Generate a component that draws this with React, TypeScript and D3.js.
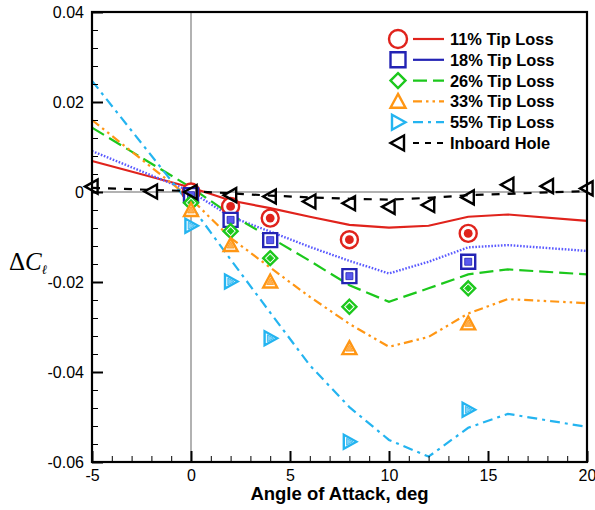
import React, { useEffect, useRef } from 'react'
import * as d3 from 'd3'

// CFD curves (lines)
const lineAoA = [-5, 0, 2, 4, 6, 8, 10, 12, 14, 16, 20]
const tip11Line = [0.0069, 0.001, -0.0019, -0.0036, -0.0055, -0.0073, -0.0079, -0.0075, -0.0055, -0.005, -0.0064]
const tip18Line = [0.0091, 0.0001, -0.0055, -0.0088, -0.0122, -0.0153, -0.0181, -0.0155, -0.0123, -0.0118, -0.0131]
const tip26Line = [0.0143, 0.001, -0.005, -0.0101, -0.0153, -0.0207, -0.0244, -0.0214, -0.0183, -0.0172, -0.0183]
const tip33Line = [0.016, -0.0015, -0.0102, -0.0168, -0.0233, -0.0293, -0.0344, -0.0322, -0.027, -0.0238, -0.0247]
const tip55Line = [0.0247, -0.003, -0.015, -0.0268, -0.0385, -0.0478, -0.0551, -0.0588, -0.0524, -0.0493, -0.0522]
const holeLine = [0.0009, 0.0002, -0.0003, -0.0008, -0.0012, -0.0015, -0.0017, -0.0013, -0.0007, -0.0004, 0.0002]

// measured points (symbols)
const expAoA = [0, 2, 4, 8, 14]
const tip11Exp = [0.0, -0.0032, -0.0058, -0.0106, -0.0092]
const tip18Exp = [-0.0007, -0.0062, -0.0107, -0.0187, -0.0155]
const tip26Exp = [-0.0024, -0.0087, -0.0147, -0.0255, -0.0214]
const tip33Exp = [-0.004, -0.0118, -0.0199, -0.0347, -0.0292]
const tip55Exp = [-0.0075, -0.0199, -0.0325, -0.0555, -0.0484]
const holeAoA = [-5, -2, 0, 2, 4, 6, 8, 10, 12, 14, 16, 18, 20]
const holeExp = [0.0012, 0.0001, 0, -0.0007, -0.001, -0.0021, -0.0025, -0.0033, -0.0029, -0.0012, 0.0016, 0.0013, 0.0008]

const seriesNames = ['11% Tip Loss', '18% Tip Loss', '26% Tip Loss', '33% Tip Loss', '55% Tip Loss', 'Inboard Hole']
const yTicks = [-0.06, -0.04, -0.02, 0, 0.02, 0.04]
const yTickLabels = ['-0.06', '-0.04', '-0.02', '0', '0.02', '0.04']
const xTicks = [-5, 0, 5, 10, 15, 20]
const xTickLabels = ['-5', '0', '5', '10', '15', '20']

const W = 595
const H = 510
const margin = { top: 12, right: 8, bottom: 48, left: 92 }

// marker outline path centred on 0,0
function shape (type: string, s: number) {
  const h = s / 2
  switch (type) {
    case 'circle':
      return d3.arc()({ innerRadius: 0, outerRadius: h, startAngle: 0, endAngle: 2 * Math.PI }) as string
    case 'square':
      return `M${-h},${-h}H${h}V${h}H${-h}Z`
    case 'diamond':
      return `M0,${-h}L${h},0L0,${h}L${-h},0Z`
    case 'up':
      return `M0,${-h}L${h},${h * 0.85}L${-h},${h * 0.85}Z`
    case 'right':
      return `M${-h * 0.8},${-h}L${h},0L${-h * 0.8},${h}Z`
    default:
      return `M${h * 0.8},${-h}L${-h},0L${h * 0.8},${h}Z`
  }
}

function App () {
  const ref = useRef<SVGSVGElement>(null)

  useEffect(() => {
    const width = W - margin.left - margin.right
    const height = H - margin.top - margin.bottom

    const x = d3.scaleLinear().domain([-5, 20]).range([0, width])
    const y = d3.scaleLinear().domain([-0.06, 0.04]).range([height, 0])

    const root = d3.select(ref.current)
    root.selectAll('*').remove()
    const svg = root.append('g')
      .attr('transform', 'translate(' + margin.left + ',' + margin.top + ')')

    const series = [
      { name: seriesNames[0], line: tip11Line, ax: expAoA, exp: tip11Exp, color: '#e0231c', lineColor: '#e0231c', legColor: '#e0231c', dash: null, marker: 'circle', inner: 'dot' },
      { name: seriesNames[1], line: tip18Line, ax: expAoA, exp: tip18Exp, color: '#2323b4', lineColor: '#5a5aff', legColor: '#2323b4', dash: '1.6,1.6', marker: 'square', inner: '#5a5af0' },
      { name: seriesNames[2], line: tip26Line, ax: expAoA, exp: tip26Exp, color: '#1cc81c', lineColor: '#1cc81c', legColor: '#1cc81c', dash: '14,6', marker: 'diamond', inner: '#1cc81c' },
      { name: seriesNames[3], line: tip33Line, ax: expAoA, exp: tip33Exp, color: '#ff9614', lineColor: '#ff9614', legColor: '#ff9614', dash: '9,4,2.5,4,2.5,4', marker: 'up', inner: '#ffb050' },
      { name: seriesNames[4], line: tip55Line, ax: expAoA, exp: tip55Exp, color: '#24b4f0', lineColor: '#24b4f0', legColor: '#24b4f0', dash: '10,5,3,5', marker: 'right', inner: '#7fd2f7' },
      { name: seriesNames[5], line: holeLine, ax: holeAoA, exp: holeExp, color: '#000', lineColor: '#000', legColor: '#000', dash: '8,8', marker: 'left', inner: null }
    ]

    // zero lines
    svg.append('line')
      .attr('x1', x(0)).attr('x2', x(0)).attr('y1', 0).attr('y2', height)
      .attr('stroke', '#999').attr('stroke-width', 1.5)
    svg.append('line')
      .attr('x1', 0).attr('x2', width).attr('y1', y(0)).attr('y2', y(0))
      .attr('stroke', '#999').attr('stroke-width', 1.5)

    // curves
    const line = d3.line<number>()
      .x((d, i) => x(lineAoA[i]))
      .y((d) => y(d))

    series.forEach((s) => {
      svg.append('path')
        .attr('d', line(s.line))
        .attr('fill', 'none')
        .attr('stroke', s.lineColor)
        .attr('stroke-width', s.dash === '1.6,1.6' ? 2.4 : 2.2)
        .attr('stroke-dasharray', s.dash)
    })

    // symbols
    series.forEach((s) => {
      const g = svg.append('g')
      s.exp.forEach((v, i) => {
        const mg = g.append('g').attr('transform', 'translate(' + x(s.ax[i]) + ',' + y(v) + ')')
        const size = s.marker === 'circle' ? 17 : 14
        mg.append('path')
          .attr('d', shape(s.marker, size))
          .attr('fill', s.inner ? '#fff' : 'none')
          .attr('stroke', s.color)
          .attr('stroke-width', 2.4)
        if (s.inner === 'dot') {
          mg.append('circle').attr('r', 4.4).attr('fill', s.color)
        } else if (s.inner) {
          mg.append('path')
            .attr('d', shape(s.marker, size * 0.5))
            .attr('fill', s.inner)
            .attr('stroke', s.color)
            .attr('stroke-width', 0.8)
        }
      })
    })

    // minor ticks
    svg.append('g')
      .call(d3.axisLeft(y).tickValues(d3.range(-0.06, 0.0401, 0.004)).tickSize(-6).tickFormat(() => ''))
      .call((g) => g.select('.domain').remove())
      .selectAll('line').attr('stroke-width', 1)
    svg.append('g')
      .attr('transform', 'translate(0,' + height + ')')
      .call(d3.axisBottom(x).tickValues(d3.range(-5, 20.01, 1)).tickSize(-6).tickFormat(() => ''))
      .call((g) => g.select('.domain').remove())
      .selectAll('line').attr('stroke-width', 1)

    // major ticks and labels (plain hyphen minus, as in the original)
    const yAxis = svg.append('g')
      .call(d3.axisLeft(y).tickValues(yTicks).tickSize(-11).tickPadding(8)
        .tickFormat((d, i) => yTickLabels[i]))
    yAxis.select('.domain').remove()
    yAxis.selectAll('line').attr('stroke-width', 2)
    yAxis.selectAll('text').style('font-size', '16px').style('font-family', 'Liberation Sans, Arial, sans-serif').attr('fill', '#000')

    const xAxis = svg.append('g')
      .attr('transform', 'translate(0,' + height + ')')
      .call(d3.axisBottom(x).tickValues(xTicks).tickSize(-11).tickPadding(8)
        .tickFormat((d, i) => xTickLabels[i]))
    xAxis.select('.domain').remove()
    xAxis.selectAll('line').attr('stroke-width', 2)
    xAxis.selectAll('text').style('font-size', '16px').style('font-family', 'Liberation Sans, Arial, sans-serif').attr('fill', '#000')

    // frame
    svg.append('rect')
      .attr('width', width).attr('height', height)
      .attr('fill', 'none').attr('stroke', '#000').attr('stroke-width', 2.2)

    // axis titles
    svg.append('text')
      .attr('x', width / 2).attr('y', height + 38)
      .attr('text-anchor', 'middle')
      .style('font-family', 'Liberation Sans, Arial, sans-serif')
      .style('font-size', '18.5px').style('font-weight', 'bold')
      .text('Angle of Attack, deg')

    const yl = root.append('text')
      .attr('x', 9).attr('y', 270)
      .style('font-family', 'Liberation Serif, Times New Roman, serif')
      .style('font-size', '25px')
    yl.append('tspan').text('Δ')
    yl.append('tspan').style('font-style', 'italic').text('C')
    yl.append('tspan').attr('dy', 4).style('font-style', 'italic').style('font-size', '13px').text('ℓ')

    // legend
    const leg = root.append('g').attr('transform', 'translate(398,39)')
    series.forEach((s, i) => {
      const row = leg.append('g').attr('transform', 'translate(0,' + (i * 20.8) + ')')
      row.append('path')
        .attr('d', shape(s.marker, s.marker === 'circle' ? 18 : 15))
        .attr('fill', 'none').attr('stroke', s.legColor).attr('stroke-width', 2.4)
      row.append('line')
        .attr('x1', 15).attr('x2', 46).attr('y1', 0).attr('y2', 0)
        .attr('stroke', s.legColor).attr('stroke-width', 2.2)
        .attr('stroke-dasharray', s.marker === 'square' ? null : s.dash === '8,8' ? '6,6' : s.dash)
      row.append('text')
        .attr('x', 52).attr('y', 0).attr('dy', '0.36em')
        .style('font-family', 'Liberation Sans, Arial, sans-serif')
        .style('font-size', '16.4px').style('font-weight', 'bold')
        .text(s.name)
    })
  }, [])

  return (
    <svg ref={ref} width={W} height={H} style={{ position: 'absolute', left: 0, top: 0, background: '#fff' }} />
  )
}

export default App
